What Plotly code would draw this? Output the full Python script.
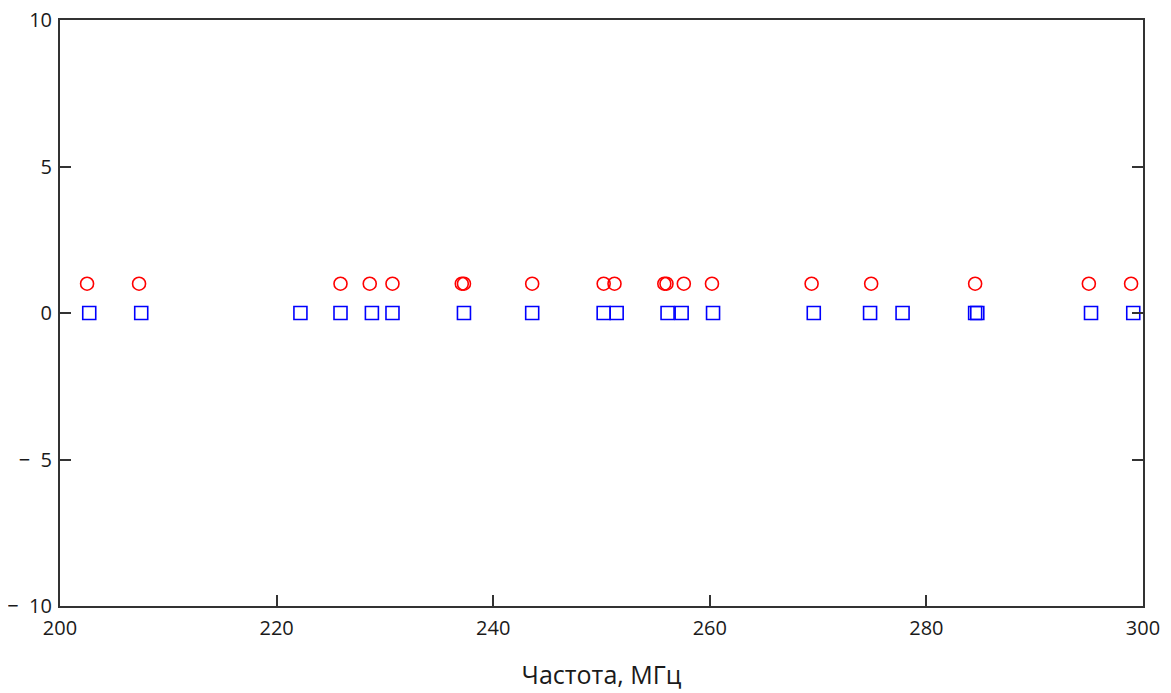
import plotly.graph_objects as go

# Red circles (y = 1)
circle_freq = [202.5, 207.3, 225.9, 228.6, 230.7, 237.1, 237.3, 243.6, 250.2, 251.2,
               255.8, 256.0, 257.6, 260.2, 269.4, 274.9, 284.5, 295.0, 298.9]
circle_val = [1] * len(circle_freq)

# Blue squares (y = 0)
square_freq = [202.7, 207.5, 222.2, 225.9, 228.8, 230.7, 237.3, 243.6, 250.2, 251.4,
               256.1, 257.4, 260.3, 269.6, 274.8, 277.8, 284.5, 284.7, 295.2, 299.1]
square_val = [0] * len(square_freq)

x_ticks = [200, 220, 240, 260, 280, 300]
y_ticks = [-10, -5, 0, 5, 10]
y_tick_text = ["\u2212  10", "\u2212  5", "0", "5", "10"]
x_title = "Частота, МГц"

fig = go.Figure()
fig.add_trace(go.Scatter(
    x=circle_freq, y=circle_val, mode="markers",
    marker=dict(symbol="circle-open", size=13, color="#ff0000", line=dict(width=1.6, color="#ff0000")),
    showlegend=False, cliponaxis=False))
fig.add_trace(go.Scatter(
    x=square_freq, y=square_val, mode="markers",
    marker=dict(symbol="square-open", size=13, color="#0000ff", line=dict(width=1.6, color="#0000ff")),
    showlegend=False, cliponaxis=False))

fig.update_layout(
    width=1171, height=693,
    margin=dict(l=52, r=36, t=12, b=95),
    plot_bgcolor="white", paper_bgcolor="white",
    font=dict(family="Open Sans, DejaVu Sans, sans-serif", color="#1a1a1a", size=20),
    xaxis=dict(
        range=[200, 300], tickvals=x_ticks, ticktext=[str(v) for v in x_ticks],
        showgrid=False, zeroline=False, automargin=False,
        showline=True, linecolor="#333333", linewidth=2, mirror=True,
        ticks="inside", ticklen=11, tickwidth=2, tickcolor="#333333",
        tickfont=dict(size=20), ticklabelstandoff=3, ticklabeloverflow="allow",
        title=dict(text=x_title, font=dict(size=25, color="#1a1a1a"), standoff=26),
    ),
    yaxis=dict(
        range=[-10, 10], tickvals=y_ticks, ticktext=y_tick_text,
        showgrid=False, zeroline=False, automargin=False,
        showline=True, linecolor="#333333", linewidth=2, mirror="ticks",
        ticks="inside", ticklen=11, tickwidth=2, tickcolor="#333333",
        tickfont=dict(size=20), ticklabelstandoff=2, ticklabeloverflow="allow",
    ),
)

fig.write_html("out.html")
